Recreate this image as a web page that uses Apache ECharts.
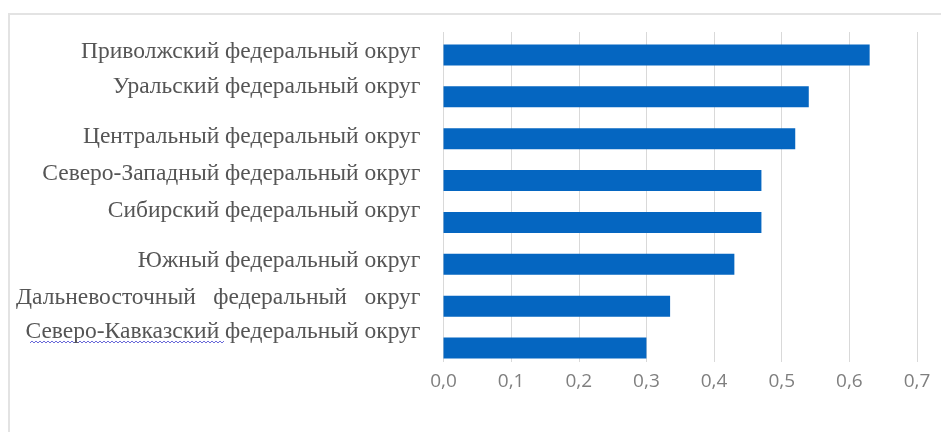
<!DOCTYPE html>
<html>
<head>
<meta charset="utf-8">
<script src="https://cdn.jsdelivr.net/npm/echarts@6/dist/echarts.min.js"></script>
<style>html,body{margin:0;padding:0;background:#fff;}#c{width:941px;height:432px;}</style>
</head>
<body>
<div id="c"></div>
<script>
const categories = [
  'Приволжский федеральный округ',
  'Уральский федеральный округ',
  'Центральный федеральный округ',
  'Северо-Западный федеральный округ',
  'Сибирский федеральный округ',
  'Южный федеральный округ',
  'Дальневосточный   федеральный   округ',
  'Северо-Кавказский федеральный округ'
];
const values = [0.63, 0.54, 0.52, 0.47, 0.47, 0.43, 0.335, 0.30];
const tickLabels = ['0,0', '0,1', '0,2', '0,3', '0,4', '0,5', '0,6', '0,7'];
// vertical lift of each category label (layout only)
const labelLift = [3, 10, 2, 7, 12, 3, 8, 16];

// category axis runs bottom-to-top; reverse so the first item is at the top
const yCats = categories.slice().reverse();
const yValues = values.slice().reverse();
const yLift = labelLift.slice().reverse();

const rich = {};
yLift.forEach((s, i) => {
  rich['l' + i] = {
    color: '#555555', fontFamily: 'Liberation Serif', fontSize: 23.5,
    padding: [0, 0, s * 2, 0]
  };
});

// wavy spell-check underline decoration (not data)
const wave = [];
for (let x = 30; x <= 224; x += 2) wave.push([x, (x / 2) % 2 === 0 ? 341 : 343]);

const chart = echarts.init(document.getElementById('c'));
chart.setOption({
  backgroundColor: '#ffffff',
  animation: false,
  graphic: [{
    type: 'rect',
    shape: { x: 9, y: 14, width: 1000, height: 500 },
    style: { fill: 'none', stroke: '#e3e3e3', lineWidth: 2 },
    silent: true
  }, {
    type: 'polyline',
    shape: { points: wave },
    style: { fill: 'none', stroke: '#6a6ad8', lineWidth: 1 },
    silent: true
  }],
  grid: [
    { left: 443.5, right: 24, top: 34, bottom: 63 },
    { left: 443.5, right: 24, top: 32, bottom: 70 }
  ],
  xAxis: [{
    gridIndex: 0,
    type: 'value', min: 0, max: 0.7, interval: 0.1,
    axisLine: { show: false }, axisTick: { show: false },
    splitLine: { show: false },
    axisLabel: {
      margin: 3,
      color: '#7f7f7f', fontFamily: 'Open Sans', fontSize: 19,
      formatter: (v) => tickLabels[Math.round(v * 10)]
    }
  }, {
    gridIndex: 1,
    type: 'value', min: 0, max: 0.7, interval: 0.1,
    axisLine: { show: false }, axisTick: { show: false },
    axisLabel: { show: false },
    splitLine: { show: true, lineStyle: { color: '#d9d9d9', width: 1 } }
  }],
  yAxis: [{
    gridIndex: 0,
    type: 'category', data: yCats,
    axisLine: { show: false }, axisTick: { show: false },
    axisLabel: {
      margin: 23,
      color: '#555555', fontFamily: 'Liberation Serif', fontSize: 23.5,
      formatter: (v, i) => '{l' + i + '|' + v + '}',
      rich: rich
    }
  }, {
    gridIndex: 1, type: 'category', data: yCats,
    show: false
  }],
  series: [{
    type: 'bar',
    xAxisIndex: 0, yAxisIndex: 0,
    data: yValues,
    barCategoryGap: '50%',
    itemStyle: { color: '#0566c1' }
  }]
});
</script>
</body>
</html>
